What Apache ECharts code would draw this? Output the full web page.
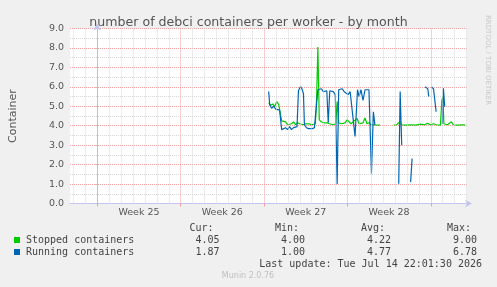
<!DOCTYPE html>
<html>
<head>
<meta charset="utf-8">
<title>debci containers per worker - by month</title>
<script src="https://cdn.jsdelivr.net/npm/echarts@6/dist/echarts.min.js"></script>
<style>
  html, body { margin: 0; padding: 0; background: #f0f0f0; }
  #chart { width: 497px; height: 287px; }
</style>
</head>
<body>
<div id="chart"></div>
<script>
// x values are days counted from the Monday that starts week 25
const weekStarts = [0, 7, 14, 21, 28];
const weekCenters = [3.5, 10.5, 17.5, 24.5];
const weekLabels = ['Week 25', 'Week 26', 'Week 27', 'Week 28'];

const seriesNames = ['Stopped containers', 'Running containers'];
const seriesColors = ['#00cc00', '#0066b3'];

const statHeaders = ['Cur:', 'Min:', 'Avg:', 'Max:'];
const stoppedStats = ['4.05', '4.00', '4.22', '9.00'];
const runningStats = ['1.87', '1.00', '4.77', '6.78'];
const lastUpdate = 'Last update: Tue Jul 14 22:01:30 2026';

// [day, containers]; null breaks the line (no data)
const stopped = [
  [14.39, 5.17], [14.56, 5.05], [14.73, 5.12], [14.89, 4.98], [15.06, 5.24], [15.23, 5.10],
  [15.35, 5.05], [15.48, 4.25], [15.64, 4.15], [15.81, 4.20], [15.98, 4.05], [16.14, 4.15],
  [16.31, 4.10], [16.48, 4.20], [16.64, 4.05], [16.81, 4.15], [16.98, 4.10], [17.14, 4.20],
  [17.31, 4.05], [17.48, 4.10], [17.64, 4.05], [17.81, 4.10], [17.98, 4.05], [18.14, 4.08],
  [18.31, 4.10], [18.42, 5.50], [18.52, 8.05], [18.64, 4.30], [18.81, 4.20], [18.98, 4.15],
  [19.14, 4.10], [19.31, 4.15], [19.48, 4.10], [19.64, 4.20], [19.81, 4.05], [20.02, 4.10],
  [20.14, 5.25], [20.27, 4.15], [20.48, 4.10], [20.64, 4.20], [20.81, 4.15], [20.98, 4.30],
  [21.14, 4.20], [21.31, 4.10], [21.48, 4.20], [21.64, 4.10], [21.81, 4.38], [21.98, 4.10],
  [22.14, 4.20], [22.31, 4.15], [22.48, 4.40], [22.64, 4.10], [22.81, 4.15], [22.98, 4.05],
  [23.14, 4.03], [23.73, 4.03], [24.3, null],
  [24.89, 4.03], [25.14, 4.05], [25.39, 4.20], [25.56, 4.05], [25.89, 4.03], [26.31, 4.05],
  [26.73, 4.03], [27.14, 4.08], [27.48, 4.05], [27.73, 4.12], [27.98, 4.05], [28.23, 4.10],
  [28.48, 4.05], [28.81, 4.03], [28.93, 5.30], [29.02, 5.50], [29.10, 4.10], [29.39, 4.05],
  [29.73, 4.20], [29.89, 4.05], [30.31, 4.03], [30.64, 4.05], [30.89, 4.03]
];

const running = [
  [14.39, 5.76], [14.48, 5.07], [14.64, 4.90], [14.81, 5.00], [14.98, 4.85], [15.14, 4.90],
  [15.31, 4.80], [15.48, 3.80], [15.64, 3.70], [15.81, 3.90], [15.98, 3.80], [16.14, 3.95],
  [16.31, 3.80], [16.48, 3.90], [16.64, 4.00], [16.77, 3.95], [16.89, 5.80], [17.06, 6.02],
  [17.18, 5.90], [17.31, 5.65], [17.39, 4.05], [17.56, 3.90], [17.73, 3.85], [17.89, 3.95],
  [18.06, 3.85], [18.23, 3.90], [18.39, 3.90], [18.52, 5.85], [18.64, 5.80], [18.81, 5.90],
  [18.98, 5.75], [19.14, 5.85], [19.27, 5.80], [19.39, 4.15], [19.52, 5.80], [19.64, 5.85],
  [19.81, 5.75], [19.98, 5.60], [20.14, 1.00], [20.27, 5.85], [20.39, 5.80], [20.56, 5.90],
  [20.73, 5.75], [20.89, 5.85], [21.06, 5.60], [21.23, 5.75], [21.39, 5.70], [21.64, 3.45],
  [21.85, 5.85], [21.98, 5.50], [22.14, 5.85], [22.31, 5.30], [22.48, 5.85], [22.64, 5.75],
  [22.81, 5.85], [23.02, 1.53], [23.18, 4.72], [23.31, 4.03], [24.0, null],
  [25.31, 1.02], [25.43, 5.76], [25.56, 3.00], [25.9, null],
  [26.31, 1.10], [26.43, 2.31], [27.0, null],
  [27.52, 6.00], [27.64, 5.95], [27.75, 5.90], [27.83, 5.50], [27.95, null],
  [28.06, 6.00], [28.23, 5.90], [28.35, 5.90], [28.45, 4.72], [28.7, null],
  [28.98, 4.10], [29.06, 5.93], [29.17, 4.98]
];

const X_MIN = -2.2917;
const X_MAX = 31.0417;

const dayLines = [];
for (let d = Math.ceil(X_MIN); d <= X_MAX; d++) {
  if (d % 7 !== 0) dayLines.push(d);
}

const MONO = '"DejaVu Sans Mono", monospace';
const SANS = '"DejaVu Sans", sans-serif';
const majorGrid = '#f0a0a0';
const minorGrid = '#d8d8d8';
const axisColor = '#c4c4f0';

const chart = echarts.init(document.getElementById('chart'), null, { renderer: 'canvas' });

// legend table drawn as text rows under the plot
const statColumnsRight = [219.5, 305, 391, 477];
const legendGraphics = [];
statHeaders.forEach((h, i) => {
  legendGraphics.push({
    type: 'text', x: statColumnsRight[i] - 6, y: 228,
    style: { text: h, font: '10px ' + MONO, fill: '#444', align: 'right', verticalAlign: 'middle' }
  });
});
[stoppedStats, runningStats].forEach((stats, row) => {
  const y = 240 + row * 12;
  legendGraphics.push({
    type: 'rect', shape: { x: 14, y: y - 3, width: 6, height: 6 },
    style: { fill: seriesColors[row] }
  });
  legendGraphics.push({
    type: 'text', x: 26, y: y,
    style: { text: seriesNames[row], font: '10px ' + MONO, fill: '#444', verticalAlign: 'middle' }
  });
  stats.forEach((v, i) => {
    legendGraphics.push({
      type: 'text', x: statColumnsRight[i], y: y,
      style: { text: v, font: '10px ' + MONO, fill: '#444', align: 'right', verticalAlign: 'middle' }
    });
  });
});

const option = {
  backgroundColor: '#f0f0f0',
  animation: false,
  title: {
    text: 'number of debci containers per worker - by month',
    left: 'center',
    top: 11,
    textStyle: { fontFamily: SANS, fontSize: 12.6, fontWeight: 'normal', color: '#555' }
  },
  grid: {
    left: 67, right: 30, top: 28.5, bottom: 83.5,
    show: true, backgroundColor: '#ffffff', borderWidth: 0
  },
  xAxis: {
    type: 'value',
    min: X_MIN,
    max: X_MAX,
    axisLine: {
      show: true, onZero: false,
      symbol: ['none', 'arrow'], symbolSize: [6, 7], symbolOffset: [0, 5],
      lineStyle: { color: axisColor, width: 1 }
    },
    axisTick: {
      show: true, length: 3, customValues: weekStarts,
      lineStyle: { color: majorGrid }
    },
    axisLabel: {
      customValues: weekCenters,
      formatter: v => weekLabels[weekCenters.indexOf(v)] || '',
      margin: 4,
      fontFamily: SANS, fontSize: 9.5, color: '#555'
    },
    splitLine: { show: false }
  },
  yAxis: {
    type: 'value',
    min: 0, max: 9, interval: 1,
    name: 'Container',
    nameLocation: 'middle',
    nameGap: 51,
    nameTextStyle: { fontFamily: SANS, fontSize: 11, color: '#555' },
    axisLine: {
      show: true,
      symbol: ['none', 'arrow'], symbolSize: [6, 7], symbolOffset: [0, 5],
      lineStyle: { color: axisColor, width: 1 }
    },
    axisTick: { show: true, length: 2, lineStyle: { color: '#bbbbbb' } },
    axisLabel: {
      formatter: v => v.toFixed(1),
      margin: 6,
      fontFamily: SANS, fontSize: 9.5, color: '#555'
    },
    splitLine: { show: true, lineStyle: { color: majorGrid, type: [1, 1], width: 1 } },
    minorTick: { show: false, splitNumber: 2 },
    minorSplitLine: { show: true, lineStyle: { color: minorGrid, type: [1, 1], width: 1 } }
  },
  series: [
    {
      // vertical day / week grid
      type: 'line',
      data: [],
      silent: true,
      z: 1,
      markLine: {
        symbol: 'none',
        silent: true,
        animation: false,
        label: { show: false },
        data: dayLines.map(d => ({ xAxis: d, lineStyle: { color: minorGrid, type: [1, 1], width: 1 } }))
          .concat(weekStarts.map(d => ({ xAxis: d, lineStyle: { color: majorGrid, type: [1, 1], width: 1 } })))
      }
    },
    {
      name: seriesNames[0],
      type: 'line',
      data: stopped,
      symbol: 'none',
      connectNulls: false,
      z: 3,
      lineStyle: { width: 1.2, color: seriesColors[0] },
      itemStyle: { color: seriesColors[0] }
    },
    {
      name: seriesNames[1],
      type: 'line',
      data: running,
      symbol: 'none',
      connectNulls: false,
      z: 4,
      lineStyle: { width: 1.2, color: seriesColors[1] },
      itemStyle: { color: seriesColors[1] }
    }
  ],
  graphic: legendGraphics.concat([
    {
      type: 'text', x: 482, y: 264,
      style: { text: lastUpdate, font: '10px ' + MONO, fill: '#444', align: 'right', verticalAlign: 'middle' }
    },
    {
      type: 'text', x: 248, y: 276,
      style: { text: 'Munin 2.0.76', font: '8px ' + SANS, fill: '#c0c0c0', align: 'center', verticalAlign: 'middle' }
    },
    {
      type: 'text', x: 488, y: 15, rotation: -Math.PI / 2,
      style: { text: 'RRDTOOL / TOBI OETIKER', font: '7px ' + SANS, fill: '#c8c8c8', align: 'left', verticalAlign: 'middle' }
    }
  ])
};

chart.setOption(option);
</script>
</body>
</html>
